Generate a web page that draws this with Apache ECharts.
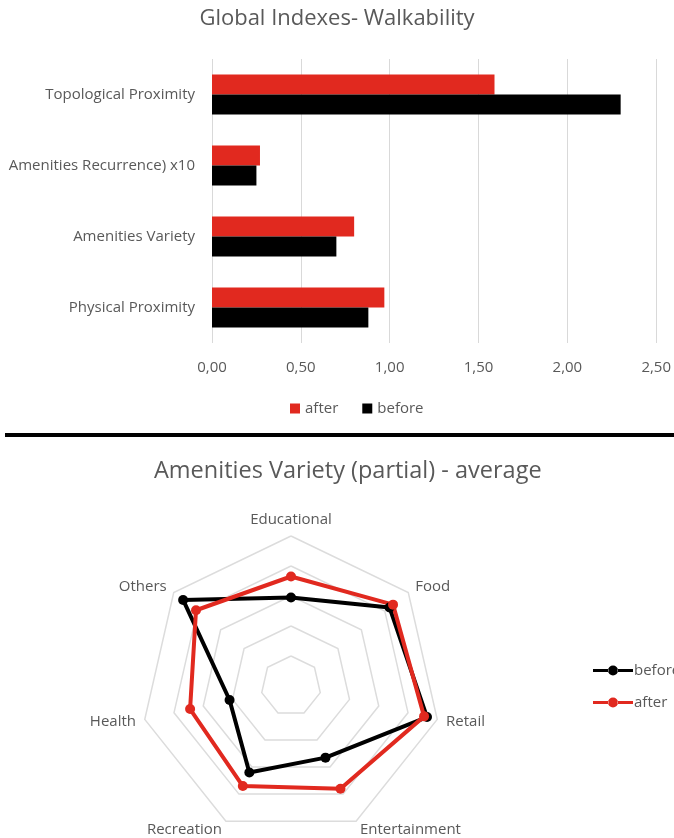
<!DOCTYPE html>
<html>
<head>
<meta charset="utf-8">
<script src="https://cdn.jsdelivr.net/npm/echarts@6/dist/echarts.min.js"></script>
<style>
  html, body { margin: 0; padding: 0; background: #fff; }
  #wrap { position: relative; width: 674px; height: 838px; overflow: hidden; }
  #barChart { position: absolute; left: 0; top: 0; width: 674px; height: 430px; }
  #sep { position: absolute; left: 5px; top: 433px; width: 669px; height: 4px; background: #000; }
  #radarChart { position: absolute; left: 0; top: 440px; width: 674px; height: 398px; }
</style>
</head>
<body>
<div id="wrap">
  <div id="barChart"></div>
  <div id="sep"></div>
  <div id="radarChart"></div>
</div>
<script type="text/javascript">
    // bar chart data (top to bottom)
    var barCategories = ['Topological Proximity', 'Amenities Recurrence) x10', 'Amenities Variety', 'Physical Proximity'];
    var barAfter = [1.59, 0.27, 0.80, 0.97];
    var barBefore = [2.30, 0.25, 0.70, 0.88];

    // radar data (ECharts goes counter-clockwise from top)
    var radarAxes = ['Educational', 'Others', 'Health', 'Recreation', 'Entertainment', 'Retail', 'Food'];
    var radarBefore = [0.59, 0.92, 0.42, 0.64, 0.53, 0.93, 0.84];
    var radarAfter = [0.73, 0.81, 0.69, 0.74, 0.76, 0.91, 0.87];

    var textGray = '#595959';
    var font = 'Open Sans';
    // line with a dot, like the excel legend
    var lineDot = 'path://M0,3.5H15.5V6.5H0Z M24.5,3.5H40V6.5H24.5Z M15,5a5,5 0 1,0 10,0a5,5 0 1,0 -10,0Z';

    var barChart = echarts.init(document.getElementById('barChart'));
    barChart.setOption({
        animation: false,
        title: {
            text: 'Global Indexes- Walkability',
            left: 'center',
            top: 3,
            textStyle: { fontFamily: font, fontSize: 22, fontWeight: 'normal', color: textGray }
        },
        legend: {
            data: ['after', 'before'],
            left: 285,
            top: 396,
            itemWidth: 10,
            itemHeight: 10,
            itemGap: 24,
            icon: 'rect',
            textStyle: { fontFamily: font, fontSize: 15, color: textGray }
        },
        grid: { left: 212, right: 15, top: 59, bottom: 87 },
        xAxis: {
            type: 'value',
            min: 0,
            max: 2.5,
            interval: 0.5,
            axisLine: { show: false },
            axisTick: { show: false },
            splitLine: { lineStyle: { color: '#d9d9d9', width: 1 } },
            axisLabel: {
                margin: 17,
                fontFamily: font, fontSize: 15, color: textGray,
                formatter: function (v) { return v.toFixed(2).replace('.', ','); }
            }
        },
        yAxis: {
            type: 'category',
            inverse: true,
            data: barCategories,
            axisLine: { show: false },
            axisTick: { show: false },
            axisLabel: { margin: 17, fontFamily: font, fontSize: 15, color: textGray }
        },
        series: [
            { name: 'after', type: 'bar', data: barAfter, barWidth: 20, barGap: '0%', itemStyle: { color: '#e1291f' } },
            { name: 'before', type: 'bar', data: barBefore, barWidth: 20, barGap: '0%', itemStyle: { color: '#000000' } }
        ]
    });

    var indicators = [];
    for (var i = 0; i < radarAxes.length; i++) {
        indicators.push({ name: radarAxes[i], min: 0, max: 1 });
    }

    var radarChart = echarts.init(document.getElementById('radarChart'));
    radarChart.setOption({
        animation: false,
        title: {
            text: 'Amenities Variety (partial) - average',
            left: 149,
            top: 14,
            textStyle: { fontFamily: font, fontSize: 23.5, fontWeight: 'normal', color: textGray }
        },
        legend: {
            data: [
                { name: 'before', icon: lineDot },
                { name: 'after', icon: lineDot }
            ],
            orient: 'vertical',
            left: 588,
            top: 218,
            itemWidth: 40,
            itemHeight: 10,
            itemGap: 17,
            textStyle: { fontFamily: font, fontSize: 15, color: textGray, padding: [0, 0, 0, -4] }
        },
        radar: {
            center: [291, 246],
            radius: 150,
            startAngle: 90,
            splitNumber: 5,
            shape: 'polygon',
            indicator: indicators,
            axisName: { fontFamily: font, fontSize: 15, color: textGray },
            nameGap: 9,
            axisLine: { show: false },
            axisTick: { show: false },
            axisLabel: { show: false },
            splitArea: { show: false },
            splitLine: { lineStyle: { color: '#dcdcdc', width: 1.5 } }
        },
        series: [{
            type: 'radar',
            symbol: 'circle',
            symbolSize: 10,
            data: [
                { name: 'before', value: radarBefore, itemStyle: { color: '#000000' }, lineStyle: { color: '#000000', width: 4 } },
                { name: 'after', value: radarAfter, itemStyle: { color: '#e1291f' }, lineStyle: { color: '#e1291f', width: 4 } }
            ]
        }]
    });
</script>
</body>
</html>
